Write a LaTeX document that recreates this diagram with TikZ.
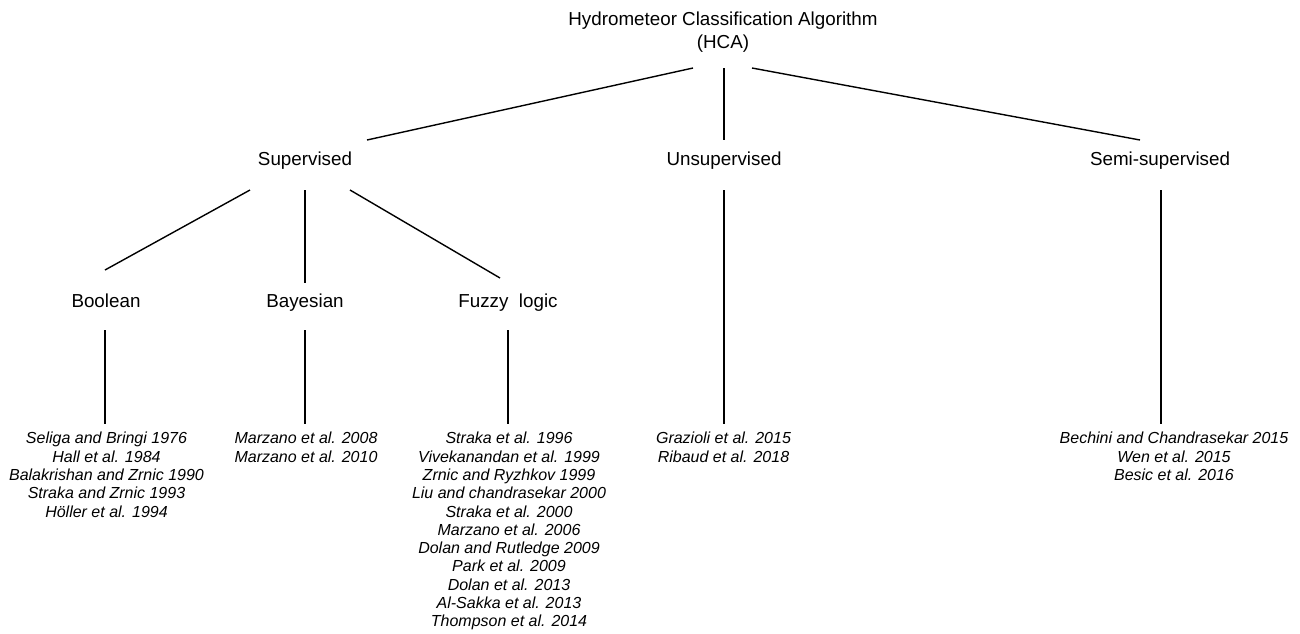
\documentclass[tikz,border=0pt]{standalone}
\usepackage{fontspec}
\setmainfont{Liberation Sans}
\begin{document}
\begin{tikzpicture}[x=1pt,y=-1pt,
  head/.style={inner sep=0pt,anchor=base,font=\fontsize{18.8}{23}\selectfont},
  refs/.style={inner sep=0pt,anchor=north,align=center,font=\fontsize{16}{18.3}\selectfont\itshape},
  conn/.style={line width=1.4pt}]
\useasboundingbox (0,0) rectangle (1300,633);
\node[inner sep=0pt,anchor=north,align=center,font=\fontsize{18.8}{23}\selectfont] (hca) at (723,11.5) {Hydrometeor Classification Algorithm\\(HCA)};
\node[head] (sup) at (305,165) {Supervised};
\node[head] (uns) at (724,165) {Unsupervised};
\node[head] (semi) at (1160,165) {Semi-supervised};
\node[head] (bool) at (106,307) {Boolean};
\node[head] (bay) at (305,307) {Bayesian};
\node[head] (fuzzy) at (508,307) {Fuzzy\ \ logic};
\node[refs] (rbool) at (106.5,432) {Seliga and Bringi 1976\\Hall et al. 1984\\Balakrishan and Zrnic 1990\\Straka and Zrnic 1993\\Höller et al. 1994};
\node[refs] (rbay) at (306,432) {Marzano et al. 2008\\Marzano et al. 2010};
\node[refs] (rfuzzy) at (509,432) {Straka et al. 1996\\Vivekanandan et al. 1999\\Zrnic and Ryzhkov 1999\\Liu and chandrasekar 2000\\Straka et al. 2000\\Marzano et al. 2006\\Dolan and Rutledge 2009\\Park et al. 2009\\Dolan et al. 2013\\Al-Sakka et al. 2013\\Thompson et al. 2014};
\node[refs] (runs) at (723.5,432) {Grazioli et al. 2015\\Ribaud et al. 2018};
\node[refs] (rsemi) at (1174,432) {Bechini and Chandrasekar 2015\\Wen et al. 2015\\Besic et al. 2016};
% connector end points
\coordinate (h1) at (693,68); \coordinate (s1) at (367,140);
\coordinate (h2) at (724,68); \coordinate (u1) at (724,140);
\coordinate (h3) at (752,68); \coordinate (m1) at (1140,140);
\coordinate (s2) at (250,190); \coordinate (b1) at (105,270);
\coordinate (s3) at (305,190); \coordinate (y1) at (305,283);
\coordinate (s4) at (350,190); \coordinate (f1) at (500,278);
\coordinate (b2) at (105,330); \coordinate (b3) at (105,424);
\coordinate (y2) at (305,330); \coordinate (y3) at (305,424);
\coordinate (f2) at (508,330); \coordinate (f3) at (508,424);
\coordinate (u2) at (724,190); \coordinate (u3) at (724,424);
\coordinate (m2) at (1161,190); \coordinate (m3) at (1161,424);
\draw[conn] (h1) -- (s1);
\draw[conn] (h2) -- (u1);
\draw[conn] (h3) -- (m1);
\draw[conn] (s2) -- (b1);
\draw[conn] (s3) -- (y1);
\draw[conn] (s4) -- (f1);
\draw[conn] (b2) -- (b3);
\draw[conn] (y2) -- (y3);
\draw[conn] (f2) -- (f3);
\draw[conn] (u2) -- (u3);
\draw[conn] (m2) -- (m3);
\end{tikzpicture}
\end{document}
